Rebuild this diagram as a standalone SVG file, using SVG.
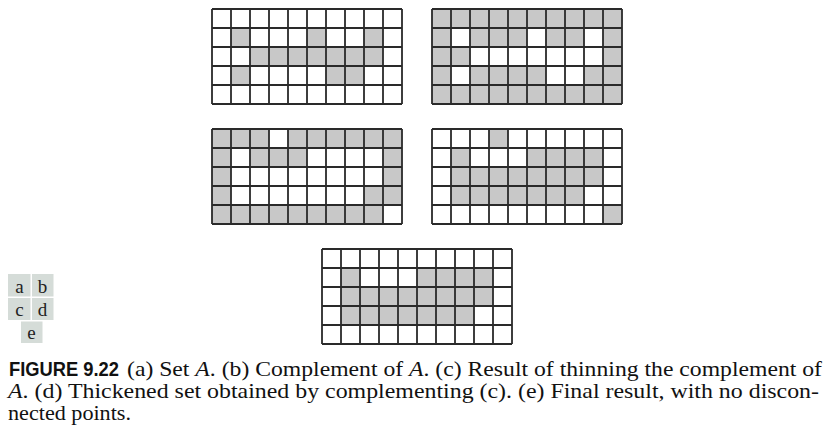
<svg xmlns="http://www.w3.org/2000/svg" width="830" height="432" viewBox="0 0 830 432">
<style>
.g{fill:#c8c8c8}
.bg{fill:#ffffff}
.ln{fill:none;stroke:#2a2a2a;stroke-width:1.8}
.lb{fill:#d5dcd8}
.lt{font-family:"Liberation Serif","Times New Roman",Times,serif;font-size:19px;fill:#222;text-anchor:middle}
.cap{font-family:"Liberation Serif","Times New Roman",Times,serif;font-size:21px;fill:#111}
.fig{font-family:"Liberation Sans",Arial,sans-serif;font-weight:bold;font-size:19.5px}
</style>
<defs>
<rect id="c" width="19" height="19"/>
<path id="grid" d="M0 0V95M19 0V95M38 0V95M57 0V95M76 0V95M95 0V95M114 0V95M133 0V95M152 0V95M171 0V95M190 0V95M0 0H190M0 19H190M0 38H190M0 57H190M0 76H190M0 95H190"/>
</defs>
<rect width="830" height="432" fill="#fff"/>

<g id="grid-a" transform="translate(212,9)">
<rect class="bg" width="190" height="95"/>
<g class="g">
<use href="#c" x="19" y="19"/><use href="#c" x="95" y="19"/><use href="#c" x="152" y="19"/>
<use href="#c" x="38" y="38"/><use href="#c" x="57" y="38"/><use href="#c" x="76" y="38"/><use href="#c" x="95" y="38"/><use href="#c" x="114" y="38"/><use href="#c" x="133" y="38"/><use href="#c" x="152" y="38"/>
<use href="#c" x="19" y="57"/><use href="#c" x="114" y="57"/><use href="#c" x="133" y="57"/>
</g>
<use href="#grid" class="ln"/>
</g>

<g id="grid-b" transform="translate(432,9)">
<rect class="g" width="190" height="95"/>
<g class="bg">
<use href="#c" x="19" y="19"/><use href="#c" x="95" y="19"/><use href="#c" x="152" y="19"/>
<use href="#c" x="38" y="38"/><use href="#c" x="57" y="38"/><use href="#c" x="76" y="38"/><use href="#c" x="95" y="38"/><use href="#c" x="114" y="38"/><use href="#c" x="133" y="38"/><use href="#c" x="152" y="38"/>
<use href="#c" x="19" y="57"/><use href="#c" x="114" y="57"/><use href="#c" x="133" y="57"/>
</g>
<use href="#grid" class="ln"/>
</g>

<g id="grid-c" transform="translate(212,129)">
<rect class="g" width="190" height="95"/>
<g class="bg">
<use href="#c" x="57" y="0"/>
<use href="#c" x="19" y="19"/><use href="#c" x="95" y="19"/><use href="#c" x="114" y="19"/><use href="#c" x="133" y="19"/><use href="#c" x="152" y="19"/>
<use href="#c" x="19" y="38"/><use href="#c" x="38" y="38"/><use href="#c" x="57" y="38"/><use href="#c" x="76" y="38"/><use href="#c" x="95" y="38"/><use href="#c" x="114" y="38"/><use href="#c" x="133" y="38"/><use href="#c" x="152" y="38"/>
<use href="#c" x="19" y="57"/><use href="#c" x="38" y="57"/><use href="#c" x="57" y="57"/><use href="#c" x="76" y="57"/><use href="#c" x="95" y="57"/><use href="#c" x="114" y="57"/><use href="#c" x="133" y="57"/>
<use href="#c" x="171" y="76"/>
</g>
<use href="#grid" class="ln"/>
</g>

<g id="grid-d" transform="translate(432,129)">
<rect class="bg" width="190" height="95"/>
<g class="g">
<use href="#c" x="57" y="0"/>
<use href="#c" x="19" y="19"/><use href="#c" x="95" y="19"/><use href="#c" x="114" y="19"/><use href="#c" x="133" y="19"/><use href="#c" x="152" y="19"/>
<use href="#c" x="19" y="38"/><use href="#c" x="38" y="38"/><use href="#c" x="57" y="38"/><use href="#c" x="76" y="38"/><use href="#c" x="95" y="38"/><use href="#c" x="114" y="38"/><use href="#c" x="133" y="38"/><use href="#c" x="152" y="38"/>
<use href="#c" x="19" y="57"/><use href="#c" x="38" y="57"/><use href="#c" x="57" y="57"/><use href="#c" x="76" y="57"/><use href="#c" x="95" y="57"/><use href="#c" x="114" y="57"/><use href="#c" x="133" y="57"/>
<use href="#c" x="171" y="76"/>
</g>
<use href="#grid" class="ln"/>
</g>

<g id="grid-e" transform="translate(322,249)">
<rect class="bg" width="190" height="95"/>
<g class="g">
<use href="#c" x="19" y="19"/><use href="#c" x="95" y="19"/><use href="#c" x="114" y="19"/><use href="#c" x="133" y="19"/><use href="#c" x="152" y="19"/>
<use href="#c" x="19" y="38"/><use href="#c" x="38" y="38"/><use href="#c" x="57" y="38"/><use href="#c" x="76" y="38"/><use href="#c" x="95" y="38"/><use href="#c" x="114" y="38"/><use href="#c" x="133" y="38"/><use href="#c" x="152" y="38"/>
<use href="#c" x="19" y="57"/><use href="#c" x="38" y="57"/><use href="#c" x="57" y="57"/><use href="#c" x="76" y="57"/><use href="#c" x="95" y="57"/><use href="#c" x="114" y="57"/><use href="#c" x="133" y="57"/>
</g>
<use href="#grid" class="ln"/>
</g>

<g id="legend">
<rect class="lb" x="8" y="274" width="22.5" height="22.5"/>
<rect class="lb" x="32" y="274" width="21.5" height="22.5"/>
<rect class="lb" x="8" y="298" width="22.5" height="22"/>
<rect class="lb" x="32" y="298" width="21.5" height="22"/>
<rect class="lb" x="21" y="321.5" width="21.5" height="21.5"/>
<text class="lt" x="19.5" y="292.5">a</text>
<text class="lt" x="42.5" y="292.5">b</text>
<text class="lt" x="19.5" y="316">c</text>
<text class="lt" x="42.5" y="316">d</text>
<text class="lt" x="31.5" y="338.5">e</text>
</g>

<g id="caption" class="cap">
<text x="9" y="375.5" class="fig" textLength="110" lengthAdjust="spacingAndGlyphs">FIGURE 9.22</text>
<text x="127" y="375.5" textLength="695" lengthAdjust="spacingAndGlyphs">(a) Set <tspan font-style="italic">A</tspan>. (b) Complement of <tspan font-style="italic">A</tspan>. (c) Result of thinning the complement of</text>
<text x="8" y="397.5" textLength="811" lengthAdjust="spacingAndGlyphs"><tspan font-style="italic">A</tspan>. (d) Thickened set obtained by complementing (c). (e) Final result, with no discon-</text>
<text x="8" y="420" textLength="123" lengthAdjust="spacingAndGlyphs">nected points.</text>
</g>
</svg>
